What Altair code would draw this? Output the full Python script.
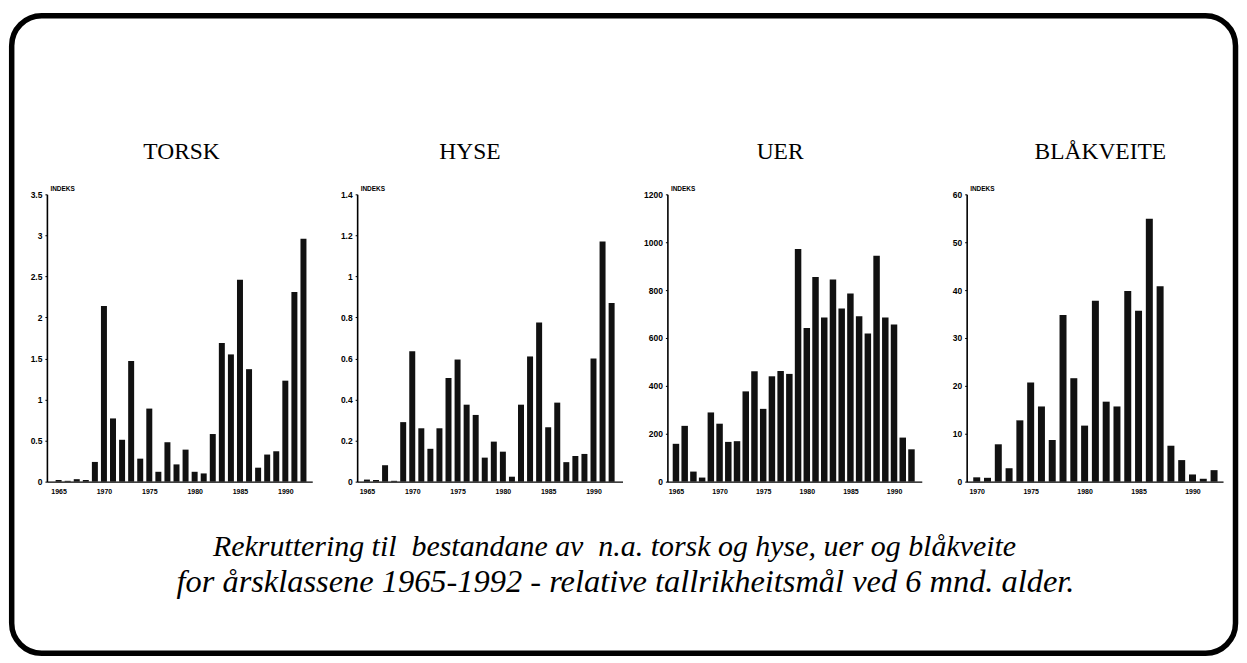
import altair as alt
import pandas as pd

# ---------------- data ----------------
years_all = [1965, 1966, 1967, 1968, 1969, 1970, 1971, 1972, 1973, 1974,
             1975, 1976, 1977, 1978, 1979, 1980, 1981, 1982, 1983, 1984,
             1985, 1986, 1987, 1988, 1989, 1990, 1991, 1992]
years_blaakveite = [1970, 1971, 1972, 1973, 1974, 1975, 1976, 1977, 1978, 1979,
                    1980, 1981, 1982, 1983, 1984, 1985, 1986, 1987, 1988, 1989,
                    1990, 1991, 1992]

torsk = [0.02, 0.01, 0.03, 0.02, 0.24, 2.14, 0.77, 0.51, 1.47, 0.28,
         0.89, 0.12, 0.48, 0.21, 0.39, 0.12, 0.10, 0.58, 1.69, 1.55,
         2.46, 1.37, 0.17, 0.33, 0.37, 1.23, 2.31, 2.96]
hyse = [0.01, 0.008, 0.08, 0.004, 0.29, 0.635, 0.26, 0.16, 0.26, 0.505,
        0.595, 0.375, 0.325, 0.117, 0.195, 0.146, 0.024, 0.375, 0.61, 0.775,
        0.265, 0.385, 0.095, 0.125, 0.135, 0.60, 1.17, 0.87]
uer = [158, 233, 42, 17, 289, 242, 166, 169, 377, 461,
       304, 440, 462, 450, 972, 642, 855, 686, 844, 723,
       786, 691, 619, 943, 686, 656, 184, 135]
blaakveite = [0.9, 0.8, 7.8, 2.8, 12.8, 20.7, 15.7, 8.7, 34.8, 21.6,
              11.7, 37.8, 16.7, 15.7, 39.8, 35.7, 54.9, 40.8, 7.5, 4.5,
              1.5, 0.6, 2.4]

titles = ["TORSK", "HYSE", "UER", "BLÅKVEITE"]
x_tick_years = [1965, 1970, 1975, 1980, 1985, 1990]
torsk_ticks = [0, 0.5, 1, 1.5, 2, 2.5, 3, 3.5]
hyse_ticks = [0, 0.2, 0.4, 0.6, 0.8, 1, 1.2, 1.4]
uer_ticks = [0, 200, 400, 600, 800, 1000, 1200]
blaakveite_ticks = [0, 10, 20, 30, 40, 50, 60]
y_title = "INDEKS"
caption_line1 = "Rekruttering til\u00a0 bestandane av\u00a0 n.a. torsk og hyse, uer og blåkveite"
caption_line2 = "for årsklassene 1965-1992 - relative tallrikheitsmål ved 6 mnd. alder."

# ---------------- layout ----------------
PANEL_H = 288
TICK_FONT = "Liberation Sans"
SERIF = "Liberation Serif"
ONE = pd.DataFrame({"k": [0]})


def panel(years, values, title, title_x, width, xdom, yticks, yfmt, bar_size, extra=()):
    df = pd.DataFrame({"year": years, "value": values})
    xt = [y for y in x_tick_years if xdom[0] <= y <= xdom[1]]
    bars = alt.Chart(df).mark_bar(size=bar_size, color="#111111").encode(
        x=alt.X(
            "year:Q",
            scale=alt.Scale(domain=xdom, nice=False, zero=False),
            axis=alt.Axis(
                values=xt, format="d", title=None, grid=False, ticks=False,
                labelFlush=False, labelFont=TICK_FONT, labelFontSize=7,
                labelFontWeight="bold", labelColor="black", labelPadding=6,
                domainColor="black", domainWidth=1.3,
            ),
        ),
        y=alt.Y(
            "value:Q",
            scale=alt.Scale(domain=[yticks[0], yticks[-1]], nice=False),
            axis=alt.Axis(
                values=yticks, format=yfmt, title=y_title, titleAngle=0,
                titleAlign="left", titleBaseline="bottom", titleX=3, titleY=-3,
                titleFont=TICK_FONT, titleFontSize=6.5, titleFontWeight="bold",
                titleColor="black", grid=False, tickSize=2, tickColor="black",
                labelFont=TICK_FONT, labelFontSize=8.5, labelFontWeight="bold",
                labelColor="black", labelPadding=3, domainColor="black",
                domainWidth=1.6,
            ),
        ),
    )
    head = alt.Chart(ONE).mark_text(
        font=SERIF, fontSize=23.5, align="center", baseline="alphabetic", color="black"
    ).encode(x=alt.value(title_x), y=alt.value(-35), text=alt.value(title))
    return alt.layer(bars, head, *extra).properties(width=width, height=PANEL_H)


# rounded frame around the whole figure (drawn relative to the first panel)
frame = alt.Chart(ONE).mark_rect(
    filled=False, stroke="black", strokeWidth=5.5, cornerRadius=30, fill="transparent"
).encode(
    x=alt.value(-35.3), x2=alt.value(1191.5),
    y=alt.value(-179), y2=alt.value(460),
)

cap1 = alt.Chart(ONE).mark_text(
    font=SERIF, fontStyle="italic", fontSize=30, align="center", baseline="alphabetic",
    color="black",
).encode(x=alt.value(569), y=alt.value(363), text=alt.value(caption_line1))
cap2 = alt.Chart(ONE).mark_text(
    font=SERIF, fontStyle="italic", fontSize=32.5, align="center", baseline="alphabetic",
    color="black",
).encode(x=alt.value(580), y=alt.value(399), text=alt.value(caption_line2))

p1 = panel(years_all, torsk, titles[0], 135, 266, [1964.26, 1992.42], torsk_ticks, "~g", 6,
           (frame, cap1, cap2))
p2 = panel(years_all, hyse, titles[1], 113, 266, [1964.47, 1992.65], hyse_ticks, "~g", 6)
p3 = panel(years_all, uer, titles[2], 113, 255, [1964.59, 1992.61], uer_ticks, "d", 6.5)
p4 = panel(years_blaakveite, blaakveite, titles[3], 134, 257, [1969.53, 1992.37],
           blaakveite_ticks, "d", 7)

chart = alt.hconcat(p1, p2, p3, p4, spacing=45, bounds="flush").properties(
    padding={"left": 0, "top": 3, "right": 0, "bottom": 0},
    background="white",
).configure_view(stroke="transparent")

chart.save("out.html", embed_options={"renderer": "svg", "actions": False})
